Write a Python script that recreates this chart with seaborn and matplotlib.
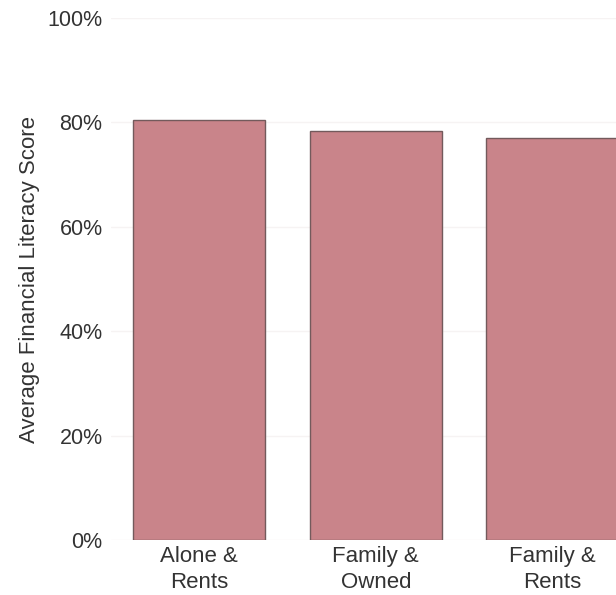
import matplotlib
matplotlib.use("Agg")
import matplotlib.pyplot as plt
import seaborn as sns
import pandas as pd
from matplotlib.ticker import PercentFormatter

# Data
groups = ["Alone &\nRents", "Family &\nOwned", "Family &\nRents"]
scores = [0.804, 0.783, 0.770]
y_ticks = [0.0, 0.2, 0.4, 0.6, 0.8, 1.0]

df = pd.DataFrame({"group": groups, "score": scores})

sns.set_theme(style="whitegrid")
plt.rcParams["font.family"] = ["Liberation Sans", "DejaVu Sans"]

fig = plt.figure(figsize=(6.16, 5.95), dpi=100)
ax = fig.add_axes([0.18, 0.092, 0.82, 0.878])

sns.barplot(data=df, x="group", y="score", color="#c9848a", width=0.75,
            edgecolor="#735a5c", linewidth=1.0, saturation=1, ax=ax)

ax.set_ylim(0, 1.0)
ax.set_xlim(-0.5, 2.36)
ax.set_yticks(y_ticks)
ax.yaxis.set_major_formatter(PercentFormatter(1.0, decimals=0))
ax.set_xlabel("")
ax.set_ylabel("Average Financial Literacy Score", fontsize=16, color="#333333", labelpad=5)
ax.tick_params(axis="y", labelsize=15.5, colors="#333333", length=0, pad=6)
ax.tick_params(axis="x", labelsize=16, colors="#333333", length=0, pad=4)
for lbl in ax.get_xticklabels():
    lbl.set_linespacing(1.3)
ax.grid(axis="y", color="#f6f3f3", linewidth=1.0)
ax.grid(axis="x", visible=False)
for s in ax.spines.values():
    s.set_visible(False)

fig.savefig("out.png", dpi=100)
